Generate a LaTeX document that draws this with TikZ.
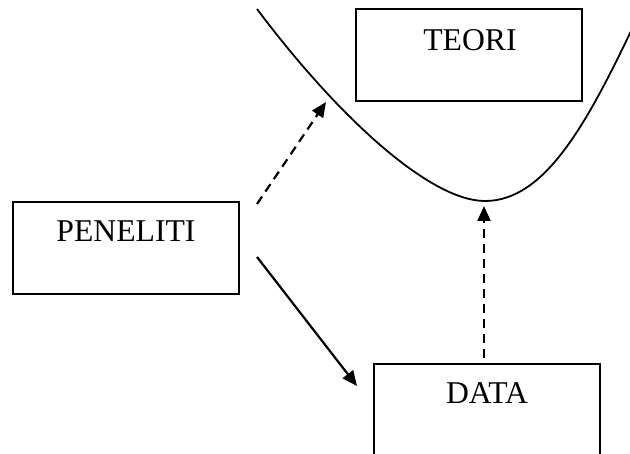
\documentclass[tikz,border=0pt]{standalone}
\usepackage{fontspec}
\setmainfont{Liberation Serif}
\usetikzlibrary{arrows.meta}
\begin{document}
\begin{tikzpicture}[x=1pt,y=-1pt,
  box/.style={draw=black,line width=1.9pt,rectangle,inner sep=0pt},
  lbl/.style={inner sep=0pt,anchor=base,font=\fontsize{31.7}{38}\selectfont},
  tip/.style={-{Triangle[length=15pt,width=13pt]}},
  dsh/.style={tip,line width=2.2pt,dash pattern=on 9pt off 6pt},
  sld/.style={tip,line width=2.2pt},
  crv/.style={line width=1.8pt}]
\useasboundingbox (0,0) rectangle (630,454);
\clip (0,0) rectangle (630,454);
% boxes
\node[box,minimum width=226pt,minimum height=92pt] (teori) at (469,55) {};
\node[box,minimum width=226pt,minimum height=92pt] (peneliti) at (126,248) {};
\node[box,minimum width=226pt,minimum height=110pt] (data) at (487,419) {};
% labels
\node[lbl] (teoriT) at (470,51) {TEORI};
\node[lbl] (penelitiT) at (126,242) {PENELITI};
\node[lbl] (dataT) at (487,404) {DATA};
% curve
\coordinate (cstart) at (257,9);
\coordinate (cmin) at (485,201);
\coordinate (cend) at (632,29);
\draw[crv] (cstart) .. controls (338,117) and (430,201) .. (cmin)
  .. controls (545,201) and (587,123) .. (cend);
% arrow end points
\coordinate (a1s) at (257,204);
\coordinate (a1e) at (326,102);
\coordinate (a2s) at (257,257);
\coordinate (a2e) at (357,386);
\coordinate (a3s) at (484,358);
\coordinate (a3e) at (484,206);
\draw[dsh] (a1s) -- (a1e);
\draw[sld] (a2s) -- (a2e);
\draw[dsh] (a3s) -- (a3e);
\end{tikzpicture}
\end{document}
